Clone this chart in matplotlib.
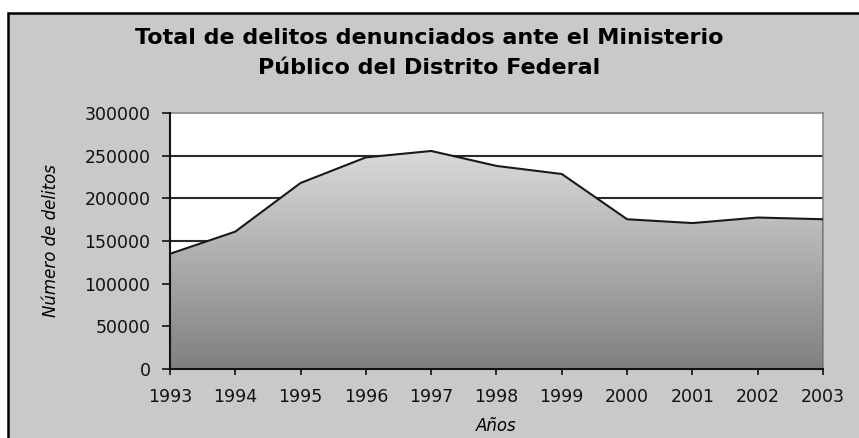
import numpy as np
import matplotlib.pyplot as plt
from matplotlib.patches import Rectangle
from matplotlib.colors import LinearSegmentedColormap

# datos
anios = [1993, 1994, 1995, 1996, 1997, 1998, 1999, 2000, 2001, 2002, 2003]
delitos = [135000, 161000, 218000, 248000, 255500, 238000, 228500, 175500, 171000, 177500, 175500]
yticks = [0, 50000, 100000, 150000, 200000, 250000, 300000]

plt.rcParams['font.family'] = ['DejaVu Sans']

fig = plt.figure(figsize=(8.59, 4.38), dpi=100, facecolor='white')

# fondo gris del grafico con marco negro (cortado a la derecha y abajo)
fondo = Rectangle((8 / 859, -0.05), 1.0, 1 - 13 / 438 + 0.05, transform=fig.transFigure,
                  facecolor='#c9c9c9', edgecolor='black', linewidth=1.8, zorder=-10)
fig.patches.append(fondo)

ax = fig.add_axes([170 / 859, (438 - 369) / 438, (823 - 170) / 859, (369 - 113) / 438])
ax.set_facecolor('white')

# lineas de division
for v in yticks[1:-1]:
    ax.axhline(v, color='#2a2a2a', linewidth=1.5, zorder=1)

# area con degradado
cmap = LinearSegmentedColormap.from_list('gris', ['#808080', '#dadada'])
grad = np.linspace(0, 1, 256).reshape(-1, 1)
poly = ax.fill_between(anios, delitos, 0, facecolor='none', edgecolor='none', zorder=2)
img = ax.imshow(grad, extent=[anios[0], anios[-1], 0, max(delitos)], origin='lower',
                aspect='auto', cmap=cmap, zorder=2)
img.set_clip_path(poly.get_paths()[0], transform=ax.transData)
ax.plot(anios, delitos, color='#1a1a1a', linewidth=1.5, zorder=3)
ax.plot([anios[-1], anios[-1]], [0, delitos[-1]], color='#1a1a1a', linewidth=1.0, zorder=3)

ax.set_xlim(anios[0], anios[-1])
ax.set_ylim(0, 300000)
ax.set_xticks(anios)
ax.set_yticks(yticks)
ax.tick_params(axis='both', labelsize=12.5, colors='#111111', direction='out', width=1.2)
ax.tick_params(axis='x', length=4, pad=10)
ax.tick_params(axis='y', length=6, pad=8)

for lado in ['top', 'right']:
    ax.spines[lado].set_color('#8a8a8a')
    ax.spines[lado].set_linewidth(1.2)
for lado in ['left', 'bottom']:
    ax.spines[lado].set_color('#111111')
    ax.spines[lado].set_linewidth(1.5)
ax.spines['left'].set_zorder(4)
ax.spines['bottom'].set_zorder(4)

ax.set_xlabel('Años', fontsize=12, style='italic')
ax.set_ylabel('Número de delitos', fontsize=12, style='italic')
ax.xaxis.set_label_coords(0.5, (369 - 417) / 256)
ax.yaxis.set_label_coords((60 - 170) / 653, 0.5)

fig.text(0.5, 1 - 53 / 438, 'Total de delitos denunciados ante el Ministerio\nPúblico del Distrito Federal',
         ha='center', va='center', fontsize=16, fontweight='bold', linespacing=1.65)

plt.savefig('out.png', dpi=100, facecolor=fig.get_facecolor())
